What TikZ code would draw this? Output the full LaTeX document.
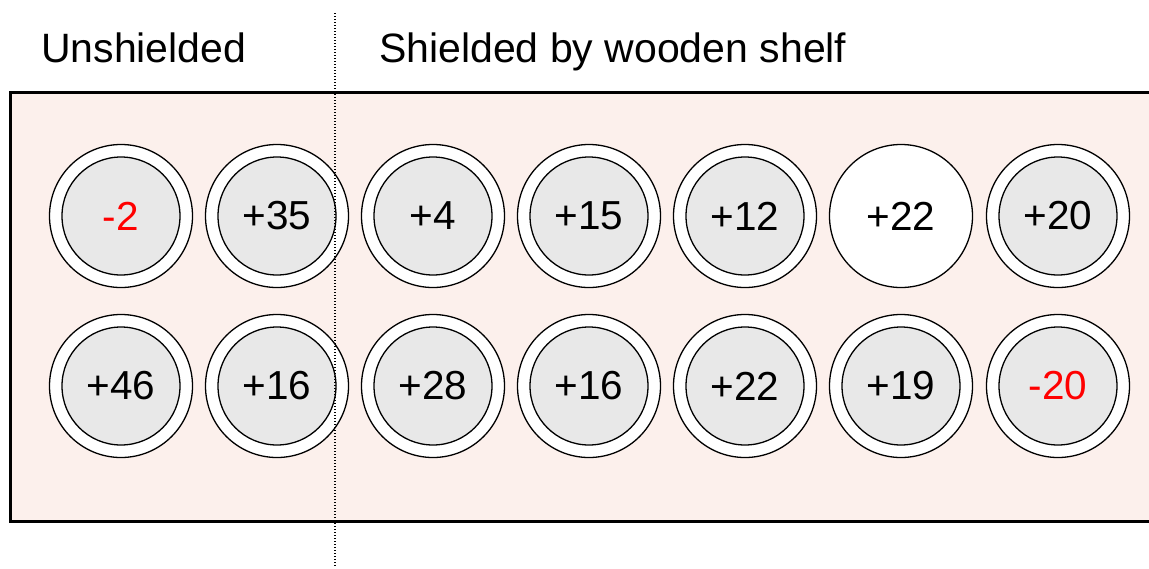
\documentclass[tikz,border=0pt]{standalone}
\usepackage{fontspec}
\setmainfont{Liberation Sans}
\definecolor{shelf}{HTML}{FCF0EC}
\definecolor{disk}{HTML}{E8E8E8}
\definecolor{neg}{HTML}{FF0000}
\begin{document}
\begin{tikzpicture}[x=1pt,y=-1pt,
  outerring/.style={circle, draw=black, line width=1.3pt, fill=white, minimum size=143pt, inner sep=0pt},
  innerdisk/.style={circle, draw=black, line width=1.3pt, fill=disk, minimum size=118pt, inner sep=0pt},
  plain/.style={circle, draw=black, line width=1.3pt, fill=white, minimum size=143pt, inner sep=0pt},
  val/.style={font=\fontsize{40.5}{40.5}\selectfont, text=black},
  negval/.style={font=\fontsize{40.5}{40.5}\selectfont, text=neg},
  heading/.style={font=\fontsize{41}{41}\selectfont, anchor=base west, inner sep=0pt},
  divider/.style={line width=1.2pt, dash pattern=on 1.4pt off 1.6pt}]
\useasboundingbox (0,0) rectangle (1149,568);
\begin{scope}
\clip (0,0) rectangle (1149,568);
\draw[line width=3pt, fill=shelf] (1170,92) -- (10,92) -- (10,521) -- (1170,521);
\end{scope}
\node[heading] (h1) at (41,62) {Unshielded};
\node[heading] (h2) at (379,62) {Shielded by wooden shelf};
% ring circles
\foreach \n/\x/\y/\t/\s in {a1/121/216/-2/negval, a2/277/216/+35/val, a3/433/216/+4/val, a4/589/216/+15/val, a5/745/216/+12/val, a7/1058/216/+20/val,
  b1/121/386/+46/val, b2/277/386/+16/val, b3/433/386/+28/val, b4/589/386/+16/val, b5/745/386/+22/val, b6/901/386/+19/val, b7/1058/386/-20/negval}{
  \node[outerring] (\n o) at (\x,\y) {};
  \node[innerdisk] (\n) at (\x,\y) {};
  \node[\s] (\n t) at (\x,\y) {\t};
}
\node[plain] (a6) at (901,216) {};
\node[val] (a6t) at (901,216) {+22};
\coordinate (dtop) at (335,13);
\coordinate (dbot) at (335,566);
\draw[divider] (dtop) -- (dbot);
\end{tikzpicture}
\end{document}
